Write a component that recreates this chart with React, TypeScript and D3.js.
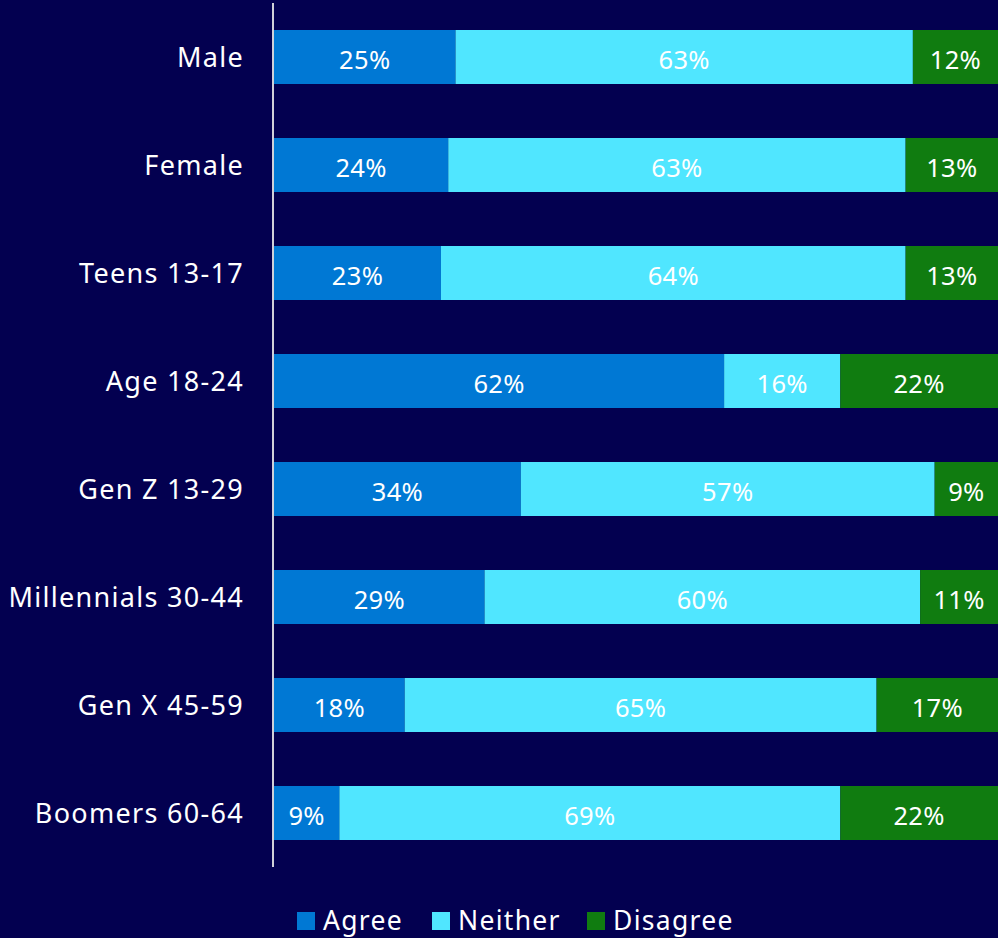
import React from "react";
import * as d3 from "d3";

const categories = ["Male", "Female", "Teens 13-17", "Age 18-24", "Gen Z 13-29", "Millennials 30-44", "Gen X 45-59", "Boomers 60-64"];
const agree = [25, 24, 23, 62, 34, 29, 18, 9];
const neither = [63, 63, 64, 16, 57, 60, 65, 69];
const disagree = [12, 13, 13, 22, 9, 11, 17, 22];
const seriesNames = ["Agree", "Neither", "Disagree"];
const seriesColors = ["#0078D4", "#50E6FF", "#107C10"];

const W = 998;
const H = 938;
const FONT = "'Noto Sans', sans-serif";

export default function App() {
  const x0 = 274;
  const x = d3.scaleLinear().domain([0, 100]).range([x0, x0 + 726]);
  const y = d3.scaleBand<string>().domain(categories).range([3, 867]).paddingInner(0.5).paddingOuter(0.25);

  const rows = categories.map((c, i) => ({ cat: c, vals: [agree[i], neither[i], disagree[i]] }));

  const legendItems = [
    { sx: 297, tx: 323 },
    { sx: 432, tx: 458 },
    { sx: 587, tx: 613 },
  ];

  return (
    <svg width={W} height={H} style={{ display: "block", position: "absolute", left: 0, top: 0 }}>
      <rect width={W} height={H} fill="#030050" />
      {rows.map((r) => {
        let acc = 0;
        const yy = y(r.cat)!;
        const bh = y.bandwidth();
        return (
          <g key={r.cat}>
            {r.vals.map((v, j) => {
              const xs = x(acc);
              acc += v;
              const xe = x(acc);
              return (
                <g key={j}>
                  <rect x={xs} y={yy} width={xe - xs} height={bh} fill={seriesColors[j]} />
                  <text x={(xs + Math.min(xe, W)) / 2} y={yy + bh / 2 + 12} textAnchor="middle" fill="#fff" fontFamily={FONT} fontSize={25.5} letterSpacing={0.3}>
                    {v}%
                  </text>
                </g>
              );
            })}
            <text x={244} y={yy + bh / 2 + 10} textAnchor="end" fill="#fff" fontFamily={FONT} fontSize={27} letterSpacing={1.3}>
              {r.cat}
            </text>
          </g>
        );
      })}
      <line x1={273} x2={273} y1={3} y2={867} stroke="#d0d0d8" strokeWidth={2} />
      {seriesNames.map((s, i) => (
        <g key={s}>
          <rect x={legendItems[i].sx} y={912} width={18} height={18} fill={seriesColors[i]} />
          <text x={legendItems[i].tx} y={930} fill="#fff" fontFamily={FONT} fontSize={26.5} letterSpacing={1.3}>
            {s}
          </text>
        </g>
      ))}
    </svg>
  );
}
